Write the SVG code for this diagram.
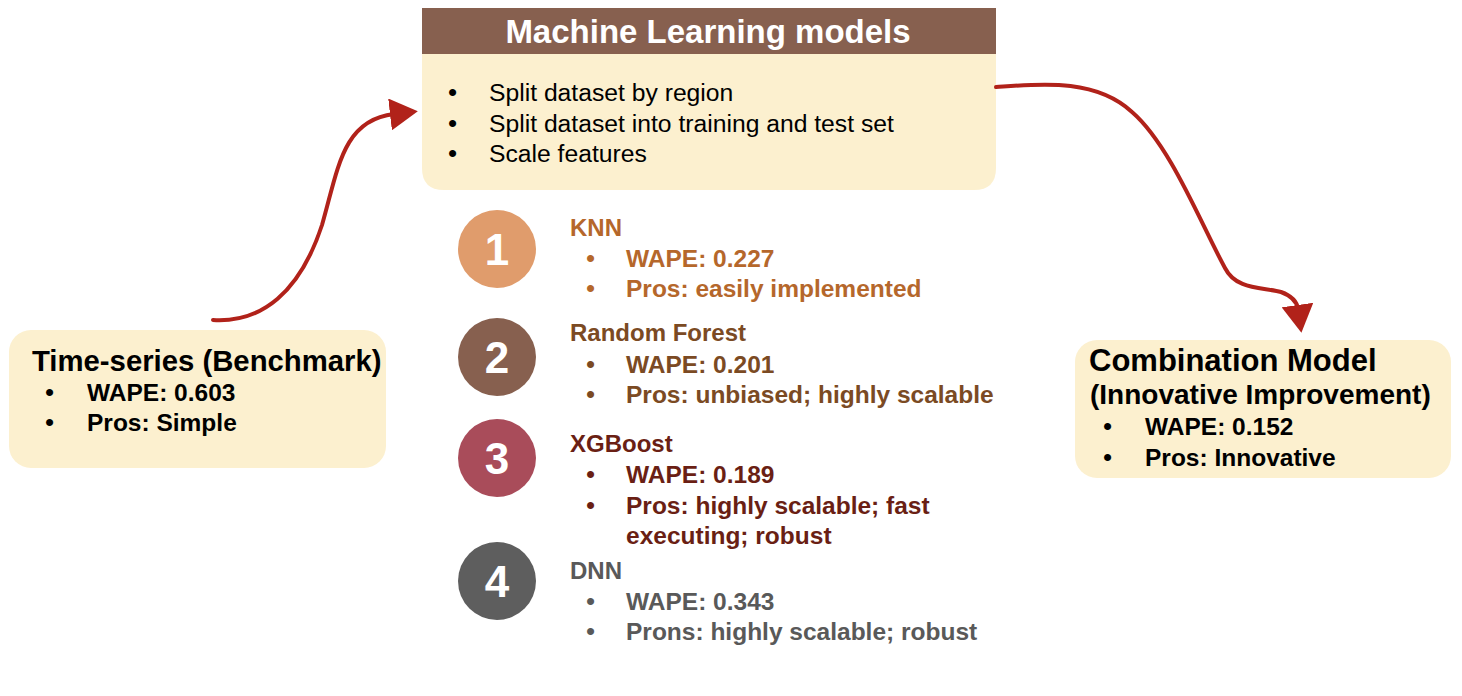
<svg xmlns="http://www.w3.org/2000/svg" width="1462" height="696" viewBox="0 0 1462 696">
<defs>
<marker id="ah" markerWidth="8" markerHeight="8" refX="1" refY="4" orient="auto" markerUnits="strokeWidth">
<path d="M0,0 L7,4 L0,8 Z" fill="#B1221A"/>
</marker>
<style>
text{font-family:"Liberation Sans",Arial,sans-serif;}
.box{fill:#FCF0CF;}
.b{font-weight:bold;}
.num{font-weight:bold;font-size:44px;fill:#fff;text-anchor:middle;}
.it{font-size:24.5px;font-weight:bold;}
.tt{font-size:24px;font-weight:bold;}
.dot{font-size:26px;font-weight:normal;}
.conn{fill:none;stroke:#B1221A;stroke-width:4;stroke-linecap:round;}
</style>
</defs>
<rect width="1462" height="696" fill="#fff"/>

<g id="ml-models">
<path class="box" d="M422,54 H996 V168 Q996,190 974,190 H444 Q422,190 422,168 Z"/>
<rect x="422" y="8" width="574" height="46" fill="#87604F"/>
<text x="708" y="43" font-size="33" class="b" fill="#fff" text-anchor="middle">Machine Learning models</text>
<g font-size="24.7" fill="#000">
<text x="448" y="101"><tspan class="dot">•</tspan><tspan x="489">Split dataset by region</tspan></text>
<text x="448" y="132"><tspan class="dot">•</tspan><tspan x="489">Split dataset into training and test set</tspan></text>
<text x="448" y="162"><tspan class="dot">•</tspan><tspan x="489">Scale features</tspan></text>
</g>
</g>

<g id="time-series">
<rect class="box" x="9" y="330" width="377" height="138" rx="22"/>
<text x="32" y="371" font-size="29.3" class="b" fill="#000">Time-series (Benchmark)</text>
<g class="it" fill="#000">
<text x="45" y="401"><tspan class="dot">•</tspan><tspan x="87">WAPE: 0.603</tspan></text>
<text x="45" y="431"><tspan class="dot">•</tspan><tspan x="87">Pros: Simple</tspan></text>
</g>
</g>

<g id="combination">
<rect class="box" x="1075" y="340" width="376" height="138" rx="22"/>
<text x="1089" y="371" font-size="31" class="b" fill="#000">Combination Model</text>
<text x="1090" y="404" font-size="28" class="b" fill="#000">(Innovative Improvement)</text>
<g class="it" fill="#000">
<text x="1103" y="435"><tspan class="dot">•</tspan><tspan x="1145">WAPE: 0.152</tspan></text>
<text x="1103" y="466"><tspan class="dot">•</tspan><tspan x="1145">Pros: Innovative</tspan></text>
</g>
</g>

<g id="knn">
<circle cx="497" cy="249" r="39" fill="#E09C6C"/>
<text x="497" y="265" class="num">1</text>
<g fill="#B5672B" class="it">
<text x="570" y="236" class="tt">KNN</text>
<text x="586" y="267"><tspan class="dot">•</tspan><tspan x="626">WAPE: 0.227</tspan></text>
<text x="586" y="297"><tspan class="dot">•</tspan><tspan x="626">Pros: easily implemented</tspan></text>
</g>
</g>

<g id="random-forest">
<circle cx="497" cy="357" r="39" fill="#87604F"/>
<text x="497" y="373" class="num">2</text>
<g fill="#7B4A23" class="it">
<text x="570" y="341" class="tt">Random Forest</text>
<text x="586" y="373"><tspan class="dot">•</tspan><tspan x="626">WAPE: 0.201</tspan></text>
<text x="586" y="403"><tspan class="dot">•</tspan><tspan x="626">Pros: unbiased; highly scalable</tspan></text>
</g>
</g>

<g id="xgboost">
<circle cx="497" cy="458" r="39" fill="#A94C5A"/>
<text x="497" y="474" class="num">3</text>
<g fill="#6A1F14" class="it">
<text x="570" y="452" class="tt">XGBoost</text>
<text x="586" y="483"><tspan class="dot">•</tspan><tspan x="626">WAPE: 0.189</tspan></text>
<text x="586" y="514"><tspan class="dot">•</tspan><tspan x="626">Pros: highly scalable; fast</tspan></text>
<text x="626" y="544">executing; robust</text>
</g>
</g>

<g id="dnn">
<circle cx="497" cy="581" r="39" fill="#5E5E5E"/>
<text x="497" y="597" class="num">4</text>
<g fill="#595959" class="it">
<text x="570" y="579" class="tt">DNN</text>
<text x="586" y="610"><tspan class="dot">•</tspan><tspan x="626">WAPE: 0.343</tspan></text>
<text x="586" y="640"><tspan class="dot">•</tspan><tspan x="626">Prons: highly scalable; robust</tspan></text>
</g>
</g>

<g id="connectors">
<path class="conn" marker-end="url(#ah)" d="M213,320 C262,323 300,292 322,225 C338,170 342,120 394,114"/>
<path class="conn" marker-end="url(#ah)" d="M996,87 C1040,84 1095,78 1132,112 C1170,145 1200,222 1225,268 C1236,290 1262,287 1281,292 C1292,296 1297,302 1298,309"/>
</g>
</svg>
